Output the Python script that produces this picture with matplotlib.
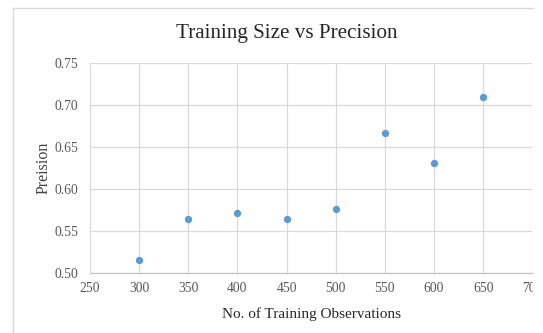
import matplotlib
matplotlib.use("Agg")
import matplotlib.pyplot as plt
from matplotlib.transforms import Bbox

train_sizes = [300, 350, 400, 450, 500, 550, 600, 650]
precision = [0.515, 0.564, 0.571, 0.564, 0.576, 0.667, 0.631, 0.710]
x_ticks = [250, 300, 350, 400, 450, 500, 550, 600, 650, 700]
y_ticks = [0.50, 0.55, 0.60, 0.65, 0.70, 0.75]

W, H = 543, 333
fig = plt.figure(figsize=(W / 100, H / 100), dpi=100)
plt.rcParams['font.family'] = ['Liberation Serif', 'DejaVu Serif']

cut_x = 533  # screenshot cut on the right (pixels)

# outer chart border (left and top visible)
fig.add_artist(plt.Line2D([12.5 / W, 12.5 / W], [0, 1 - 7.5 / H], transform=fig.transFigure,
                          color='#d9d9d9', linewidth=1.0))
fig.add_artist(plt.Line2D([12.5 / W, cut_x / W], [1 - 7.5 / H, 1 - 7.5 / H], transform=fig.transFigure,
                          color='#d9d9d9', linewidth=1.0))

left, right, top, bottom = 90, 532.3, 63, 272.5
ax = fig.add_axes([left / W, 1 - bottom / H, (right - left) / W, (bottom - top) / H])
ax.scatter(train_sizes, precision, s=28, color='#5b9bd5', zorder=3, linewidths=0)
ax.set_xlim(250, 700)
ax.set_ylim(0.50, 0.75)
ax.set_xticks(x_ticks)
ax.set_yticks(y_ticks)
ax.set_yticklabels([f"{v:.2f}" for v in y_ticks])
ax.grid(True, color='#d9d9d9', linewidth=0.9)
ax.set_axisbelow(True)
for s in ['top', 'right', 'left']:
    ax.spines[s].set_visible(False)
ax.spines['bottom'].set_color('#bfbfbf')
ax.tick_params(length=0, labelsize=9.8, colors='#595959')
ax.tick_params(axis='x', pad=7)
ax.tick_params(axis='y', pad=8.5)
ax.set_xlabel("No. of Training Observations", fontsize=11, color='#262626', labelpad=8.5)
ax.set_ylabel("Preision", fontsize=11.5, color='#404040', labelpad=2)
fig.text(287 / W, 1 - 33.5 / H, "Training Size vs Precision", ha='center', va='center',
         fontsize=15.2, color='#262626')

clip = Bbox.from_extents(0, 0, cut_x, H)
for lab in ax.get_xticklabels():
    lab.set_clip_on(True)
    lab.set_clip_box(clip)

fig.savefig("out.png", dpi=100, facecolor='white')
